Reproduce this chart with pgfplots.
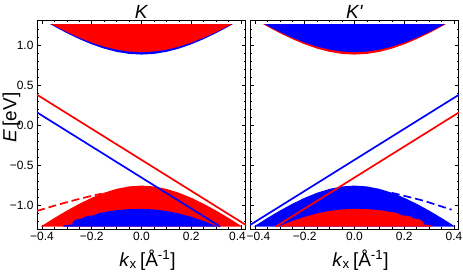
\documentclass[border=0pt]{standalone}
\usepackage{fontspec}
\setmainfont{Liberation Sans}
\usepackage{pgfplots}
\pgfplotsset{compat=1.18}
\definecolor{pr}{RGB}{255,0,0}
\definecolor{pb}{RGB}{0,0,255}
\begin{document}
\begin{tikzpicture}
\path[use as bounding box] (0,0) rectangle (463pt,273pt);
\pgfplotsset{
  panel/.style={
    scale only axis, width=209pt, height=209pt,
    xmin=-0.42, xmax=0.42, ymin=-1.29, ymax=1.31,
    tick align=inside,
    xtick={-0.4,-0.2,0,0.2,0.4},
    minor xtick={-0.35,-0.3,-0.25,-0.15,-0.1,-0.05,0.05,0.1,0.15,0.25,0.3,0.35},
    ytick={-1,-0.5,0,0.5,1},
    minor ytick={-1.2,-1.1,-0.9,-0.8,-0.7,-0.6,-0.4,-0.3,-0.2,-0.1,0.1,0.2,0.3,0.4,0.6,0.7,0.8,0.9,1.1,1.2},
    major tick length=4pt, minor tick length=2.2pt,
    every tick/.style={black, line width=0.6pt},
    axis line style={line width=1pt},
    ticklabel style={font=\fontsize{12}{14}\selectfont},
    xticklabel style={inner xsep=1pt},
    title style={font=\fontsize{19}{22}\selectfont, at={(axis description cs:0.5,1)}, anchor=base, yshift=-4.5pt},
    xlabel style={font=\fontsize{19}{22}\selectfont, at={(axis description cs:0.5,0)}, anchor=base, yshift=-37pt, xshift=6pt},
    xlabel={\textit{k}\textsubscript{x}\,[Å\textsuperscript{-1}]},
    clip=true,
  }
}
% ---------------- K ----------------
\begin{axis}[panel, at={(37pt,44pt)}, anchor=south west,
  title={\textit{K}},
  xticklabels={−0.4,−0.2,0.0,0.2,\hspace*{-7pt}0.4},
  yticklabels={−1.0,−0.5,0.0,0.5,1.0},
  ylabel={\textit{E}\,[eV]},
  ylabel style={font=\fontsize{19}{22}\selectfont, at={(axis description cs:-0.122,0.533)}, anchor=center},
]
% conduction band: blue edge, red fill
\addplot[fill=pb, draw=none] coordinates {(-0.3681,1.26) (-0.34,1.2117) (-0.3,1.1466) (-0.25,1.0722) (-0.2,1.0072) (-0.15,0.9537) (-0.1,0.9135) (-0.05,0.8885) (0,0.88) (0.05,0.8885) (0.1,0.9135) (0.15,0.9537) (0.2,1.0072) (0.25,1.0722) (0.3,1.1466) (0.34,1.2117) (0.3681,1.26)} -- cycle;
\addplot[fill=pr, draw=none] coordinates {(-0.3631,1.26) (-0.33,1.2064) (-0.3,1.1604) (-0.25,1.09) (-0.2,1.0288) (-0.15,0.9786) (-0.1,0.9411) (-0.05,0.9179) (0,0.91) (0.05,0.9179) (0.1,0.9411) (0.15,0.9786) (0.2,1.0288) (0.25,1.09) (0.3,1.1604) (0.33,1.2064) (0.3631,1.26)} -- cycle;
% valence band: big red dome
\addplot[fill=pr, draw=none] coordinates {(-0.405,-1.26) (-0.35,-1.1524) (-0.3,-1.0607) (-0.25,-0.9763) (-0.2,-0.9014) (-0.15,-0.8385) (-0.1,-0.7906) (-0.05,-0.7603) (0,-0.75) (0.05,-0.7603) (0.1,-0.7906) (0.15,-0.8385) (0.2,-0.9014) (0.25,-0.9763) (0.3,-1.0607) (0.35,-1.1524) (0.405,-1.26)} -- cycle;
% small blue dome, ragged left
\addplot[fill=pb, draw=none] coordinates {(-0.315,-1.26) (-0.31,-1.245) (-0.28,-1.235) (-0.275,-1.2) (-0.262,-1.17) (-0.24,-1.16) (-0.22,-1.13) (-0.19,-1.12) (-0.17,-1.09) (-0.13,-1.07) (-0.1,-1.055) (-0.05,-1.043) (0,-1.04) (0.05,-1.0464) (0.1,-1.0655) (0.15,-1.0965) (0.2,-1.1386) (0.25,-1.1905) (0.307,-1.26)} -- cycle;
% dashed
\addplot[pr, line width=1.7pt, dash pattern=on 8pt off 4pt] coordinates {(-0.42,-1.065) (-0.35,-1.0) (-0.28,-0.94) (-0.21,-0.885) (-0.16,-0.85)};
% lines
\addplot[pr, line width=1.7pt] coordinates {(-0.42,0.3806) (0.42,-1.2406)};
\addplot[pb, line width=1.7pt] coordinates {(-0.42,0.1606) (0.316,-1.26)};
\end{axis}
% ---------------- K' ----------------
\begin{axis}[panel, at={(250pt,44pt)}, anchor=south west,
  title={\textit{K\textquotesingle}},
  xticklabels={−0.4\hspace*{-7pt},−0.2,0.0,0.2,0.4},
  yticklabels={},
]
\addplot[fill=pr, draw=none] coordinates {(-0.3681,1.26) (-0.34,1.2117) (-0.3,1.1466) (-0.25,1.0722) (-0.2,1.0072) (-0.15,0.9537) (-0.1,0.9135) (-0.05,0.8885) (0,0.88) (0.05,0.8885) (0.1,0.9135) (0.15,0.9537) (0.2,1.0072) (0.25,1.0722) (0.3,1.1466) (0.34,1.2117) (0.3681,1.26)} -- cycle;
\addplot[fill=pb, draw=none] coordinates {(-0.3631,1.26) (-0.33,1.2064) (-0.3,1.1604) (-0.25,1.09) (-0.2,1.0288) (-0.15,0.9786) (-0.1,0.9411) (-0.05,0.9179) (0,0.91) (0.05,0.9179) (0.1,0.9411) (0.15,0.9786) (0.2,1.0288) (0.25,1.09) (0.3,1.1604) (0.33,1.2064) (0.3631,1.26)} -- cycle;
\addplot[fill=pb, draw=none] coordinates {(-0.405,-1.26) (-0.35,-1.1524) (-0.3,-1.0607) (-0.25,-0.9763) (-0.2,-0.9014) (-0.15,-0.8385) (-0.1,-0.7906) (-0.05,-0.7603) (0,-0.75) (0.05,-0.7603) (0.1,-0.7906) (0.15,-0.8385) (0.2,-0.9014) (0.25,-0.9763) (0.3,-1.0607) (0.35,-1.1524) (0.405,-1.26)} -- cycle;
\addplot[fill=pr, draw=none] coordinates {(-0.307,-1.26) (-0.25,-1.1905) (-0.2,-1.1386) (-0.15,-1.0965) (-0.1,-1.0655) (-0.05,-1.0464) (0,-1.04) (0.05,-1.043) (0.1,-1.055) (0.13,-1.07) (0.17,-1.09) (0.19,-1.12) (0.22,-1.13) (0.24,-1.16) (0.262,-1.17) (0.275,-1.2) (0.28,-1.235) (0.31,-1.245) (0.315,-1.26)} -- cycle;
\addplot[pb, line width=1.7pt, dash pattern=on 8pt off 4pt] coordinates {(0.15,-0.84) (0.21,-0.885) (0.28,-0.94) (0.33,-0.99) (0.39,-1.05)};
\addplot[pb, line width=1.7pt] coordinates {(-0.42,-1.2406) (0.42,0.3806)};
\addplot[pr, line width=1.7pt] coordinates {(-0.316,-1.26) (0.42,0.1606)};
\end{axis}
\end{tikzpicture}
\end{document}
